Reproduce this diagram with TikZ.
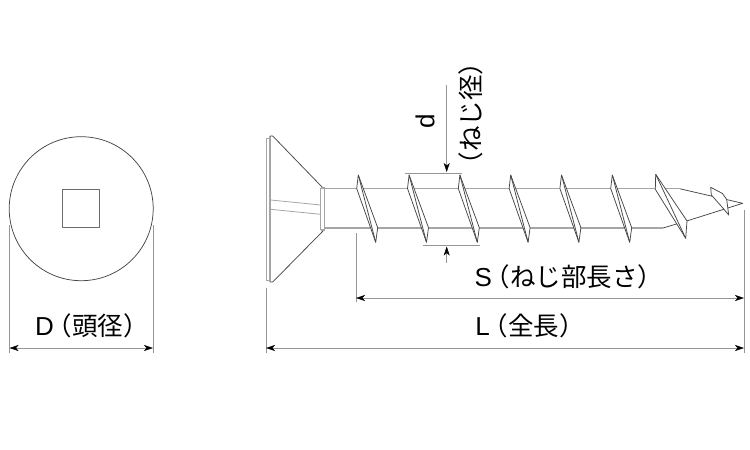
\documentclass[tikz,border=0pt]{standalone}
\usepackage{fontspec}
\setmainfont{Liberation Sans}
\newfontfamily\cjkfont{Noto Sans CJK JP}
\usetikzlibrary{arrows.meta}
\definecolor{O}{RGB}{70,70,70}
\definecolor{G}{RGB}{165,165,165}
\definecolor{E}{RGB}{150,150,150}
\def\Pitch{50.8}
\def\Total{5}
\newcommand{\Jp}[1]{{\cjkfont\fontsize{25.5pt}{28pt}\selectfont #1}}
\tikzset{
    outline/.style={O,line width=0.75pt,line join=round},
    heavy/.style={G,line width=1.35pt},
    extline/.style={E,line width=0.5pt},
    dimline/.style={E,line width=0.5pt,{Stealth[black,length=9pt,width=6pt,inset=2.5pt]}-{Stealth[black,length=9pt,width=6pt,inset=2.5pt]}},
    arrowin/.style={E,line width=0.5pt,-{Stealth[black,length=9pt,width=6pt,inset=2.5pt]}},
    dimtext/.style={black,font=\fontsize{26pt}{28pt}\selectfont,inner sep=0pt}
}
\begin{document}
\begin{tikzpicture}[x=1pt,y=-1pt]
    \path[use as bounding box] (0,0) rectangle (750,450);
    % head seen from above
    \draw[outline] (81.2,208.7) circle (72);
    \draw[outline,O!80] (62.3,189.3) rectangle (99.7,227.3);
    % head seen from the side
    \draw[heavy,line width=1pt] (270,138) -- (266,138) -- (266,280) -- (270,280);
    \draw[heavy] (270,136) -- (270,282);
    \draw[outline] (270,136) -- (272.7,136) -- (323,188);
    \draw[outline] (270,282) -- (272.7,282) -- (323,231);
    \draw[heavy] (320.5,188) -- (320.5,230);
    \draw[heavy] (320.5,188) -- (324.5,188) -- (324.5,230) -- (320.5,230);
    \draw[G,line width=0.8pt] (270.7,200) -- (320.5,205);
    \draw[G,line width=0.8pt] (270.7,209.3) -- (320.5,214.3);
    % shaft and point
    \draw[heavy] (324.5,188.8) -- (680,188.8);
    \draw[heavy] (324.5,228) -- (663,228);
    \draw[outline] (680,188.8) -- (742.7,203.3) -- (686.7,221);
    \draw[outline] (663,228) -- (686.7,221);
    % thread turns
    \foreach \P in {0,...,\Total} {
        \coordinate (A\P) at ({358.3+\P*\Pitch},175);
        \coordinate (B\P) at ({356.7+\P*\Pitch},188.5);
        \coordinate (C\P) at ({375.7+\P*\Pitch},242.3);
        \coordinate (D\P) at ({377.7+\P*\Pitch},227.7);
        \draw[outline,fill=white] (A\P) -- (D\P) -- (C\P) -- (B\P) -- cycle;
        \draw[outline] (A\P) -- (C\P);
    }
    \coordinate (A6) at (655.7,174.3);
    \coordinate (B6) at (655.3,189.3);
    \coordinate (C6) at (685.7,238.3);
    \coordinate (D6) at (687,221);
    \draw[outline,fill=white] (A6) -- (D6) -- (C6) -- (B6) -- cycle;
    \draw[outline] (A6) -- (C6);
    \draw[outline,fill=white] (710.7,187.3) -- (722.5,193.5) -- (726.7,199.5) -- (728.7,215) -- (722,207) -- (711.3,195) -- cycle;
    % dimension d
    \coordinate (Dtop) at (446.7,172);
    \coordinate (Dtail) at (446.7,85);
    \coordinate (Dbot) at (446.7,246.5);
    \coordinate (Dend) at (446.7,263);
    \draw[extline] (405,173.3) -- (461.7,173.3);
    \draw[extline] (423,245.3) -- (480,245.3);
    \draw[arrowin] (Dtail) -- (Dtop);
    \draw[arrowin] (Dend) -- (Dbot);
    \node[dimtext,rotate=90] (dlabel) at (425,121) {d};
    \node[dimtext,rotate=90] (dname) at (471,113.5) {\Jp{（ねじ径）}};
    % dimensions S, L, D
    \coordinate (Sa) at (356,298);
    \coordinate (Sb) at (744,298);
    \coordinate (La) at (266,348);
    \coordinate (Lb) at (744,348);
    \coordinate (Ha) at (9.5,348);
    \coordinate (Hb) at (153,348);
    \draw[extline] (356,233) -- (356,302);
    \draw[extline] (744,210) -- (744,353);
    \draw[extline] (266,288) -- (266,353);
    \draw[extline] (9.5,225) -- (9.5,353);
    \draw[extline] (153,225) -- (153,353);
    \draw[dimline] (Sa) -- (Sb);
    \draw[dimline] (La) -- (Lb);
    \draw[dimline] (Ha) -- (Hb);
    \node[dimtext] (slabel) at (569,277) {S\kern-7pt\Jp{（ねじ部長さ）}};
    \node[dimtext] (llabel) at (530,326) {L\kern-7pt\Jp{（全長）}};
    \node[dimtext] (hlabel) at (92,326) {D\kern-7pt\Jp{（頭径）}};
\end{tikzpicture}
\end{document}
